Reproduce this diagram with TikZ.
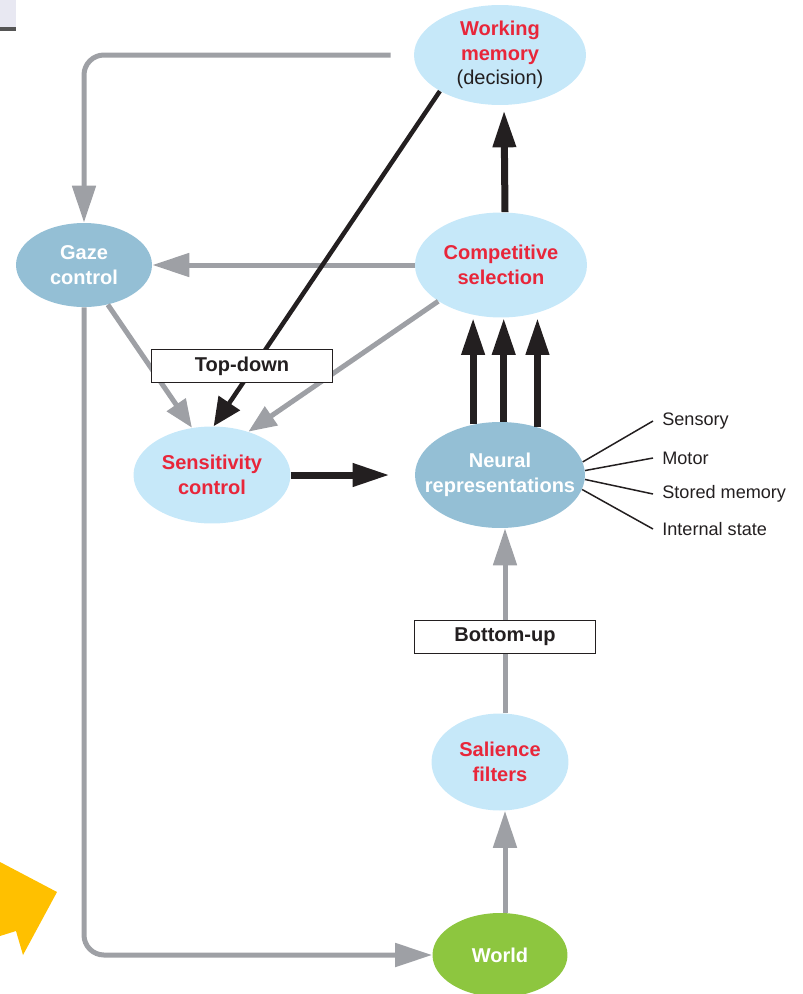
\documentclass[tikz,border=0pt]{standalone}
\usepackage{fontspec}
\setmainfont{Liberation Sans}
\definecolor{paleblue}{RGB}{198,232,249}
\definecolor{steelblue}{RGB}{148,191,213}
\definecolor{leafgreen}{RGB}{141,198,63}
\definecolor{hotred}{RGB}{232,38,58}
\definecolor{inkblack}{RGB}{35,31,32}
\definecolor{linegray}{RGB}{158,160,165}
\definecolor{amber}{RGB}{255,192,0}
\definecolor{lavender}{RGB}{232,232,242}
\definecolor{bargray}{RGB}{85,85,85}
\usepackage{tikz}
\usetikzlibrary{arrows.meta,positioning,shapes.geometric,calc}

\begin{document}
\begin{tikzpicture}[x=0.02cm,y=-0.02cm,
      el/.style={ellipse,inner sep=0pt,align=center,
                 font=\bfseries\fontsize{11.4}{14}\selectfont},
      pale/.style={el,fill=paleblue,text=hotred},
      deep/.style={el,fill=steelblue,text=white},
      tagbox/.style={draw=inkblack,line width=0.7pt,fill=white,
                minimum width=3.62cm,minimum height=0.67cm,inner sep=0pt,
                font=\bfseries\fontsize{11.4}{14}\selectfont,text=inkblack},
      side/.style={anchor=west,inner xsep=0.18cm,inner ysep=0pt,
                font=\fontsize{10.3}{12}\selectfont,text=inkblack},
      ga/.style={-{Triangle[length=0.74cm,width=0.46cm]},line width=0.1cm,color=linegray},
      sg/.style={ga,-{Triangle[length=0.56cm,width=0.44cm]}},
      ba/.style={-{Triangle[length=0.74cm,width=0.44cm]},line width=0.14cm,color=inkblack},
      tb/.style={-{Triangle[length=0.56cm,width=0.5cm]},line width=0.09cm,color=inkblack},
      lead/.style={line width=0.03cm,color=inkblack}]
      \useasboundingbox (0,0) rectangle (802,994);
      % slide leftovers
      \fill[lavender] (0,0) rectangle (16,27);
      \fill[bargray] (0,27) rectangle (16,31);
      \fill[amber] (0,862) -- (57,892) -- (23,955) -- (16,931) -- (0,936) -- cycle;
      % nodes
      \node[pale,minimum width=3.44cm,minimum height=2cm] (wm) at (500,55)
           {Working\\memory\\{\mdseries\color{inkblack}(decision)}};
      \node[pale,minimum width=3.44cm,minimum height=2.1cm] (cs) at (501,265) {Competitive\\selection};
      \node[deep,minimum width=2.72cm,minimum height=1.68cm] (gz) at (84,265) {Gaze\\control};
      \node[pale,minimum width=3.14cm,minimum height=1.94cm] (sc) at (212,475) {Sensitivity\\control};
      \node[deep,minimum width=3.4cm,minimum height=2.12cm,inner xsep=-10pt] (nr) at (500,475)
           {Neural\\representations};
      \node[pale,minimum width=2.74cm,minimum height=1.94cm] (sf) at (500,762) {Salience\\filters};
      \node[el,fill=leafgreen,text=white,minimum width=2.7cm,minimum height=1.68cm] (wd) at (500,955) {World};
      \node[side] (sen) at (653,421) {Sensory};
      \node[side] (mot) at (653,458) {Motor};
      \node[side] (sto) at (653,494) {Stored memory};
      \node[side] (ist) at (653,529) {Internal state};
      % gray loops
      \draw[ga,rounded corners=0.4cm,shorten <=0.46cm] (wm.west) -| (gz.north);
      \draw[ga] (cs.west) -- (gz.east);
      \draw[sg] (gz.-59) -- (sc.113);
      \draw[sg] (cs.210) -- (sc.50);
      \draw[ga,rounded corners=0.4cm] (gz.south) |- (wd.west);
      \draw[ga] ([xshift=0.1cm]wd.north) -- ([xshift=0.1cm]sf.south);
      \draw[ga] ([xshift=0.1cm]sf.north) -- ([xshift=0.1cm]nr.south);
      % black arrows
      \draw[tb] (wm.211) -- (sc.88);
      \draw[ba,shorten >=0.5cm] (sc.east) -- (nr.west);
      \draw[ba] (nr.118) -- (nr.118 |- cs.south);
      \draw[ba] (nr.86) -- (nr.86 |- cs.south);
      \draw[ba] (nr.52) -- (nr.52 |- cs.south);
      \draw[ba,shorten >=0.1cm] ([xshift=0.08cm]cs.north) -- ([xshift=0.08cm]wm.south);
      % sources
      \draw[lead] (nr.9) -- (sen.west);
      \draw[lead] (nr.3) -- (mot.west);
      \draw[lead] (nr.-3) -- (sto.west);
      \draw[lead] (nr.-10) -- (ist.west);
      % labels on top
      \node[tagbox] (td) at (242,366) {Top-down};
      \node[tagbox] (bu) at (505,637) {Bottom-up};
    \end{tikzpicture}
\end{document}
